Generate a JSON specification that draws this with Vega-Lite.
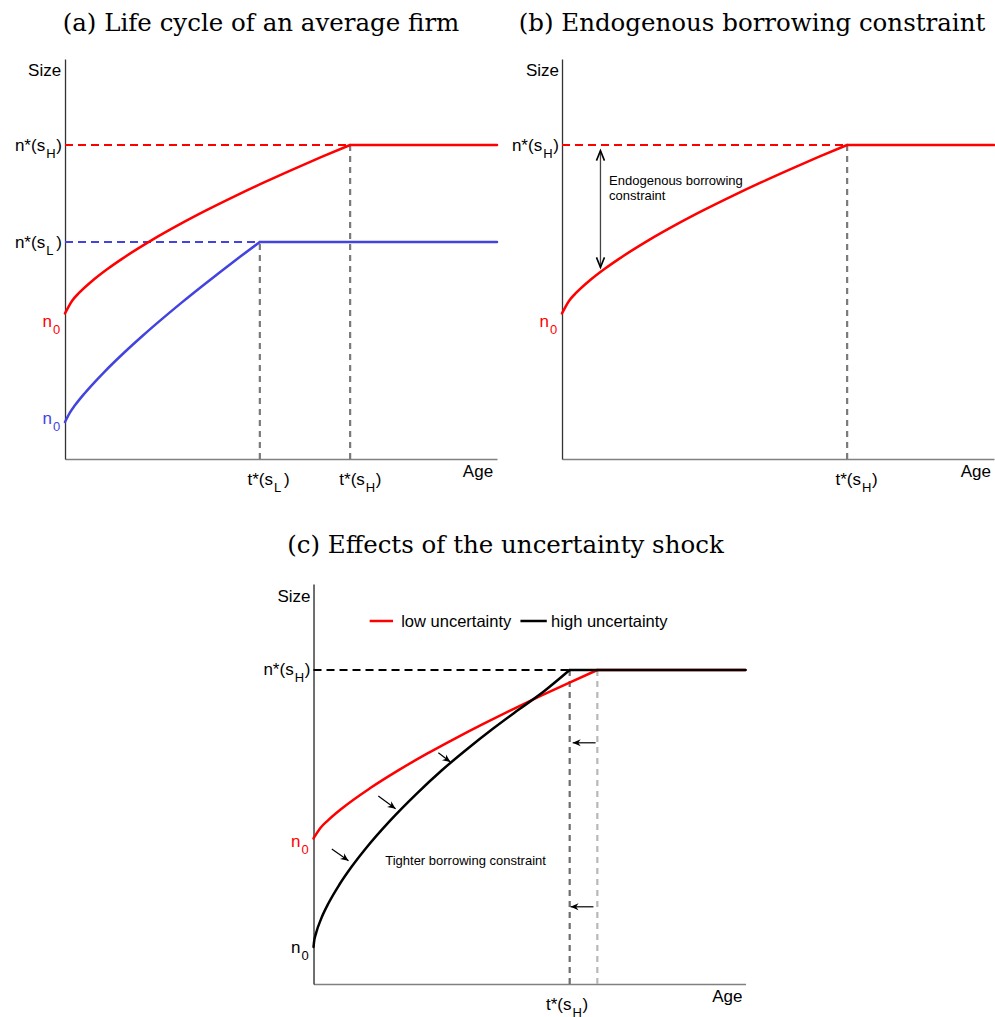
{
  "$schema": "https://vega.github.io/schema/vega-lite/v6.json",
  "padding": {"left": 14, "top": 10, "right": 0, "bottom": 0},
  "background": "white",
  "config": {
    "font": "Liberation Sans",
    "view": {"stroke": null},
    "axis": {"grid": false, "ticks": false, "labels": false, "domainWidth": 1.3},
    "title": {"font": "DejaVu Serif", "fontSize": 24.5, "fontWeight": "normal", "color": "#000000", "baseline": "alphabetic", "frame": "group", "anchor": "middle"}
  },
  "resolve": {"scale": {"color": "shared"}},
  "datasets": {
    "curves_a": [
      {"series": "sH", "x": 0, "y": 36.4}, {"series": "sH", "x": 1.65, "y": 39.58}, {"series": "sH", "x": 3.3, "y": 41.57},
      {"series": "sH", "x": 6.6, "y": 44.8}, {"series": "sH", "x": 9.9, "y": 47.56},
      {"series": "sH", "x": 13.2, "y": 50.04}, {"series": "sH", "x": 19.8, "y": 54.52}, {"series": "sH", "x": 26.4, "y": 58.57},
      {"series": "sH", "x": 33, "y": 62.32}, {"series": "sH", "x": 39.6, "y": 65.84}, {"series": "sH", "x": 46.2, "y": 69.2},
      {"series": "sH", "x": 52.8, "y": 72.41}, {"series": "sH", "x": 59.4, "y": 75.51}, {"series": "sH", "x": 66, "y": 78.5},
      {"series": "sL", "x": 0, "y": 9.25}, {"series": "sL", "x": 1.13, "y": 11.6}, {"series": "sL", "x": 2.255, "y": 13.35},
      {"series": "sL", "x": 4.51, "y": 16.38}, {"series": "sL", "x": 6.765, "y": 19.11},
      {"series": "sL", "x": 9.02, "y": 21.67}, {"series": "sL", "x": 13.53, "y": 26.43}, {"series": "sL", "x": 18.04, "y": 30.87},
      {"series": "sL", "x": 22.55, "y": 35.09}, {"series": "sL", "x": 27.06, "y": 39.16}, {"series": "sL", "x": 31.57, "y": 43.08},
      {"series": "sL", "x": 36.08, "y": 46.89}, {"series": "sL", "x": 40.59, "y": 50.61}, {"series": "sL", "x": 45.1, "y": 54.25}
    ],
    "flat_a": [
      {"series": "sH", "x": 66, "x2": 100, "y": 78.5},
      {"series": "sL", "x": 45.1, "x2": 100, "y": 54.25}
    ],
    "dash_a": [
      {"series": "sH", "x": 0, "x2": 66, "y": 78.5},
      {"series": "sL", "x": 0, "x2": 45.1, "y": 54.25}
    ],
    "vert_a": [
      {"x": 45.1, "y": 0, "y2": 54.25},
      {"x": 66, "y": 0, "y2": 78.5}
    ],
    "labels_a": [
      {"series": "axis", "x": -4.6, "y": 77, "main": "n*(s", "sub": "H", "close": ")"},
      {"series": "axis", "x": -4.6, "y": 52.75, "main": "n*(s", "sub": "L", "close": ")"},
      {"series": "sH", "x": -3, "y": 33, "main": "n", "sub": "0", "close": ""},
      {"series": "sL", "x": -3, "y": 8.75, "main": "n", "sub": "0", "close": ""},
      {"series": "axis", "x": 48.15, "y": -6.5, "main": "t*(s", "sub": "L", "close": ")"},
      {"series": "axis", "x": 69.4, "y": -6.5, "main": "t*(s", "sub": "H", "close": ")"},
      {"series": "axis", "x": -0.9, "y": 95.75, "main": "Size", "sub": "", "close": ""},
      {"series": "axis", "x": 99.1, "y": -4.5, "main": "Age", "sub": "", "close": ""}
    ],
    "curves_b": [
      {"series": "sH", "x": 0, "y": 36.4}, {"series": "sH", "x": 1.65, "y": 39.58}, {"series": "sH", "x": 3.3, "y": 41.57},
      {"series": "sH", "x": 6.6, "y": 44.8}, {"series": "sH", "x": 9.9, "y": 47.56},
      {"series": "sH", "x": 13.2, "y": 50.04}, {"series": "sH", "x": 19.8, "y": 54.52}, {"series": "sH", "x": 26.4, "y": 58.57},
      {"series": "sH", "x": 33, "y": 62.32}, {"series": "sH", "x": 39.6, "y": 65.84}, {"series": "sH", "x": 46.2, "y": 69.2},
      {"series": "sH", "x": 52.8, "y": 72.41}, {"series": "sH", "x": 59.4, "y": 75.51}, {"series": "sH", "x": 66, "y": 78.5}
    ],
    "flat_b": [{"series": "sH", "x": 66, "x2": 100, "y": 78.5}],
    "dash_b": [{"series": "sH", "x": 0, "x2": 66, "y": 78.5}],
    "vert_b": [{"x": 66, "y": 0, "y2": 78.5}],
    "labels_b": [
      {"series": "axis", "x": -4.6, "y": 77, "main": "n*(s", "sub": "H", "close": ")"},
      {"series": "sH", "x": -3, "y": 33, "main": "n", "sub": "0", "close": ""},
      {"series": "axis", "x": 69.2, "y": -6.5, "main": "t*(s", "sub": "H", "close": ")"},
      {"series": "axis", "x": -0.7, "y": 95.75, "main": "Size", "sub": "", "close": ""},
      {"series": "axis", "x": 99.3, "y": -4.5, "main": "Age", "sub": "", "close": ""}
    ],
    "notes_b": [
      {"x": 10.9, "y": 68.5, "text": "Endogenous borrowing"},
      {"x": 10.9, "y": 64.75, "text": "constraint"}
    ],
    "shaft_b": [{"x": 8.9, "y": 47.9, "y2": 77.1}],
    "headup_b": [{"x": 8.9, "y": 77.1}],
    "headdown_b": [{"x": 8.9, "y": 47.9}],
    "curve_low_c": [
      {"series": "low", "x": 0, "y": 36.4}, {"series": "low", "x": 1.64, "y": 39.05}, {"series": "low", "x": 3.285, "y": 40.85},
      {"series": "low", "x": 6.57, "y": 43.89},
      {"series": "low", "x": 13.14, "y": 48.99}, {"series": "low", "x": 19.71, "y": 53.47}, {"series": "low", "x": 26.28, "y": 57.58},
      {"series": "low", "x": 32.85, "y": 61.43}, {"series": "low", "x": 39.42, "y": 65.1}, {"series": "low", "x": 45.99, "y": 68.62},
      {"series": "low", "x": 52.56, "y": 72.02}, {"series": "low", "x": 59.13, "y": 75.3}, {"series": "low", "x": 65.7, "y": 78.5}
    ],
    "flat_low_c": [{"series": "low", "x": 65.7, "x2": 100, "y": 78.5}],
    "curve_high_c": [
      {"series": "high", "x": 0, "y": 9.25}, {"series": "high", "x": 0.119, "y": 10.47}, {"series": "high", "x": 0.593, "y": 12.72},
      {"series": "high", "x": 1.779, "y": 16.34}, {"series": "high", "x": 3.558, "y": 20.37}, {"series": "high", "x": 5.93, "y": 24.75},
      {"series": "high", "x": 8.895, "y": 29.43}, {"series": "high", "x": 11.86, "y": 33.58}, {"series": "high", "x": 17.79, "y": 40.91},
      {"series": "high", "x": 23.72, "y": 47.42}, {"series": "high", "x": 29.65, "y": 53.38}, {"series": "high", "x": 35.58, "y": 58.75},
      {"series": "high", "x": 41.51, "y": 63.8}, {"series": "high", "x": 47.44, "y": 68.55}, {"series": "high", "x": 53.37, "y": 73.2},
      {"series": "high", "x": 59.3, "y": 78.5}
    ],
    "flat_high_c": [{"series": "high", "x": 59.3, "x2": 100, "y": 78.5}],
    "dash_c": [{"series": "high", "x": 0, "x2": 59.3, "y": 78.5}],
    "vert_dark_c": [{"x": 59.3, "y": 0, "y2": 78.5}],
    "vert_light_c": [{"x": 65.7, "y": 0, "y2": 78.5}],
    "legend_lines_c": [
      {"series": "low", "x": 13.0, "x2": 18.4, "y": 90.75},
      {"series": "high", "x": 47.9, "x2": 54.0, "y": 90.75}
    ],
    "legend_text_c": [
      {"x": 20.3, "y": 89.25, "text": "low uncertainty"},
      {"x": 55.0, "y": 89.25, "text": "high uncertainty"}
    ],
    "notes_c": [{"x": 16.6, "y": 29.75, "text": "Tighter borrowing constraint"}],
    "diag_shaft_c": [
      {"x": 4.24, "y": 33.75, "x2": 8.1, "y2": 30.8},
      {"x": 15.0, "y": 47.0, "x2": 19.0, "y2": 43.8},
      {"x": 28.9, "y": 57.8, "x2": 31.7, "y2": 55.5}
    ],
    "diag_head_c": [
      {"x": 8.1, "y": 30.8},
      {"x": 19.0, "y": 43.8},
      {"x": 31.7, "y": 55.5}
    ],
    "left_shaft_c": [
      {"x": 65.3, "y": 60.3, "x2": 60.0, "y2": 60.3},
      {"x": 64.8, "y": 19.3, "x2": 59.5, "y2": 19.3}
    ],
    "left_head_c": [
      {"x": 60.0, "y": 60.3},
      {"x": 59.5, "y": 19.3}
    ],
    "labels_c": [
      {"series": "axis", "x": -0.7, "y": 95.6, "main": "Size", "sub": "", "close": ""},
      {"series": "axis", "x": -4.6, "y": 77.25, "main": "n*(s", "sub": "H", "close": ")"},
      {"series": "low", "x": -3, "y": 34.25, "main": "n", "sub": "0", "close": ""},
      {"series": "high", "x": -3, "y": 7.75, "main": "n", "sub": "0", "close": ""},
      {"series": "axis", "x": 59.7, "y": -6.5, "main": "t*(s", "sub": "H", "close": ")"},
      {"series": "axis", "x": 99.3, "y": -4.5, "main": "Age", "sub": "", "close": ""}
    ]
  },
  "vconcat": [
    {
      "hconcat": [
        {
          "width": 432, "height": 400,
          "title": {"text": "(a) Life cycle of an average firm", "offset": 23, "dx": -20},
          "encoding": {
            "x": {"field": "x", "type": "quantitative", "title": null, "scale": {"domain": [0, 100]}, "axis": {"domainColor": "#808080"}},
            "y": {"field": "y", "type": "quantitative", "title": null, "scale": {"domain": [0, 100]}, "axis": {"domainColor": "#333333"}},
            "color": {"field": "series", "type": "nominal", "legend": null, "scale": {"domain": ["sH", "sL", "axis", "low", "high"], "range": ["#ff0000", "#4343e0", "#000000", "#ff0000", "#000000"]}}
          },
          "layer": [
            {"data": {"name": "dash_a"}, "mark": {"type": "rule", "strokeDash": [8, 5], "strokeWidth": 2}, "encoding": {"x2": {"field": "x2"}}},
            {"data": {"name": "vert_a"}, "mark": {"type": "rule", "strokeDash": [6, 5], "strokeWidth": 2.2}, "encoding": {"y2": {"field": "y2"}, "color": {"value": "#7a7a7a"}}},
            {"data": {"name": "curves_a"}, "mark": {"type": "line", "strokeWidth": 2.5, "interpolate": "monotone", "strokeCap": "round"}, "encoding": {}},
            {"data": {"name": "flat_a"}, "mark": {"type": "rule", "strokeWidth": 2.5, "strokeCap": "round"}, "encoding": {"x2": {"field": "x2"}}},
            {"data": {"name": "labels_a"}, "mark": {"type": "text", "align": "right", "baseline": "alphabetic", "fontSize": 17}, "encoding": {"text": {"field": "main"}}},
            {"data": {"name": "labels_a"}, "mark": {"type": "text", "align": "left", "baseline": "alphabetic", "fontSize": 13, "dx": 1, "dy": 7}, "encoding": {"text": {"field": "sub"}}},
            {"data": {"name": "labels_a"}, "mark": {"type": "text", "align": "left", "baseline": "alphabetic", "fontSize": 17, "dx": 11}, "encoding": {"text": {"field": "close"}}}
          ]
        },
        {
          "width": 432, "height": 400,
          "title": {"text": "(b) Endogenous borrowing constraint", "offset": 23, "dx": -26},
          "encoding": {
            "x": {"field": "x", "type": "quantitative", "title": null, "scale": {"domain": [0, 100]}, "axis": {"domainColor": "#808080"}},
            "y": {"field": "y", "type": "quantitative", "title": null, "scale": {"domain": [0, 100]}, "axis": {"domainColor": "#333333"}},
            "color": {"field": "series", "type": "nominal", "legend": null, "scale": {"domain": ["sH", "sL", "axis", "low", "high"], "range": ["#ff0000", "#4343e0", "#000000", "#ff0000", "#000000"]}}
          },
          "layer": [
            {"data": {"name": "dash_b"}, "mark": {"type": "rule", "strokeDash": [8, 5], "strokeWidth": 2}, "encoding": {"x2": {"field": "x2"}}},
            {"data": {"name": "vert_b"}, "mark": {"type": "rule", "strokeDash": [6, 5], "strokeWidth": 2.2}, "encoding": {"y2": {"field": "y2"}, "color": {"value": "#7a7a7a"}}},
            {"data": {"name": "curves_b"}, "mark": {"type": "line", "strokeWidth": 2.5, "interpolate": "monotone", "strokeCap": "round"}, "encoding": {}},
            {"data": {"name": "flat_b"}, "mark": {"type": "rule", "strokeWidth": 2.5, "strokeCap": "round"}, "encoding": {"x2": {"field": "x2"}}},
            {"data": {"name": "shaft_b"}, "mark": {"type": "rule", "strokeWidth": 1.3}, "encoding": {"y2": {"field": "y2"}, "color": {"value": "#444444"}}},
            {"data": {"name": "headup_b"}, "mark": {"type": "point", "shape": "M -2 -0.8 L 0 0 L -2 0.8", "filled": false, "size": 100, "strokeWidth": 1.6, "angle": 270, "opacity": 1}, "encoding": {"color": {"value": "#000000"}}},
            {"data": {"name": "headdown_b"}, "mark": {"type": "point", "shape": "M -2 -0.8 L 0 0 L -2 0.8", "filled": false, "size": 100, "strokeWidth": 1.6, "angle": 90, "opacity": 1}, "encoding": {"color": {"value": "#000000"}}},
            {"data": {"name": "notes_b"}, "mark": {"type": "text", "align": "left", "baseline": "alphabetic", "fontSize": 13}, "encoding": {"text": {"field": "text"}, "color": {"value": "#000000"}}},
            {"data": {"name": "labels_b"}, "mark": {"type": "text", "align": "right", "baseline": "alphabetic", "fontSize": 17}, "encoding": {"text": {"field": "main"}}},
            {"data": {"name": "labels_b"}, "mark": {"type": "text", "align": "left", "baseline": "alphabetic", "fontSize": 13, "dx": 1, "dy": 7}, "encoding": {"text": {"field": "sub"}}},
            {"data": {"name": "labels_b"}, "mark": {"type": "text", "align": "left", "baseline": "alphabetic", "fontSize": 17, "dx": 11}, "encoding": {"text": {"field": "close"}}}
          ]
        }
      ],
      "spacing": 6
    },
    {
      "width": 432, "height": 400,
      "title": {"text": "(c) Effects of the uncertainty shock", "offset": 26, "dx": -24},
      "encoding": {
        "x": {"field": "x", "type": "quantitative", "title": null, "scale": {"domain": [0, 100]}, "axis": {"domainColor": "#808080"}},
        "y": {"field": "y", "type": "quantitative", "title": null, "scale": {"domain": [0, 100]}, "axis": {"domainColor": "#222222"}},
        "color": {"field": "series", "type": "nominal", "legend": null, "scale": {"domain": ["sH", "sL", "axis", "low", "high"], "range": ["#ff0000", "#4343e0", "#000000", "#ff0000", "#000000"]}}
      },
      "layer": [
        {"data": {"name": "dash_c"}, "mark": {"type": "rule", "strokeDash": [8, 5], "strokeWidth": 2}, "encoding": {"x2": {"field": "x2"}}},
        {"data": {"name": "vert_dark_c"}, "mark": {"type": "rule", "strokeDash": [6, 5], "strokeWidth": 2.2}, "encoding": {"y2": {"field": "y2"}, "color": {"value": "#6e6e6e"}}},
        {"data": {"name": "vert_light_c"}, "mark": {"type": "rule", "strokeDash": [6, 5], "strokeWidth": 2.2}, "encoding": {"y2": {"field": "y2"}, "color": {"value": "#b8b8b8"}}},
        {"data": {"name": "curve_low_c"}, "mark": {"type": "line", "strokeWidth": 2.5, "interpolate": "monotone", "strokeCap": "round"}, "encoding": {}},
        {"data": {"name": "flat_low_c"}, "mark": {"type": "rule", "strokeWidth": 2.5, "strokeCap": "round"}, "encoding": {"x2": {"field": "x2"}}},
        {"data": {"name": "curve_high_c"}, "mark": {"type": "line", "strokeWidth": 2.5, "interpolate": "monotone", "strokeCap": "round"}, "encoding": {}},
        {"data": {"name": "flat_high_c"}, "mark": {"type": "rule", "strokeWidth": 2.5, "strokeCap": "round"}, "encoding": {"x2": {"field": "x2"}}},
        {"data": {"name": "legend_lines_c"}, "mark": {"type": "rule", "strokeWidth": 2.5}, "encoding": {"x2": {"field": "x2"}}},
        {"data": {"name": "legend_text_c"}, "mark": {"type": "text", "align": "left", "baseline": "alphabetic", "fontSize": 16.5}, "encoding": {"text": {"field": "text"}, "color": {"value": "#000000"}}},
        {"data": {"name": "notes_c"}, "mark": {"type": "text", "align": "left", "baseline": "alphabetic", "fontSize": 13}, "encoding": {"text": {"field": "text"}, "color": {"value": "#000000"}}},
        {"data": {"name": "diag_shaft_c"}, "mark": {"type": "rule", "strokeWidth": 1.2}, "encoding": {"x2": {"field": "x2"}, "y2": {"field": "y2"}, "color": {"value": "#000000"}}},
        {"data": {"name": "diag_head_c"}, "mark": {"type": "point", "shape": "M 0 0 L -1.6 -0.7 L -1.1 0 L -1.6 0.7 Z", "filled": true, "size": 100, "angle": 36, "opacity": 1}, "encoding": {"color": {"value": "#000000"}}},
        {"data": {"name": "left_shaft_c"}, "mark": {"type": "rule", "strokeWidth": 1.2}, "encoding": {"x2": {"field": "x2"}, "y2": {"field": "y2"}, "color": {"value": "#000000"}}},
        {"data": {"name": "left_head_c"}, "mark": {"type": "point", "shape": "M 0 0 L -1.6 -0.7 L -1.1 0 L -1.6 0.7 Z", "filled": true, "size": 100, "angle": 180, "opacity": 1}, "encoding": {"color": {"value": "#000000"}}},
        {"data": {"name": "labels_c"}, "mark": {"type": "text", "align": "right", "baseline": "alphabetic", "fontSize": 17}, "encoding": {"text": {"field": "main"}}},
        {"data": {"name": "labels_c"}, "mark": {"type": "text", "align": "left", "baseline": "alphabetic", "fontSize": 13, "dx": 1, "dy": 7}, "encoding": {"text": {"field": "sub"}}},
        {"data": {"name": "labels_c"}, "mark": {"type": "text", "align": "left", "baseline": "alphabetic", "fontSize": 17, "dx": 11}, "encoding": {"text": {"field": "close"}}}
      ]
    }
  ],
  "spacing": 37,
  "center": true
}
